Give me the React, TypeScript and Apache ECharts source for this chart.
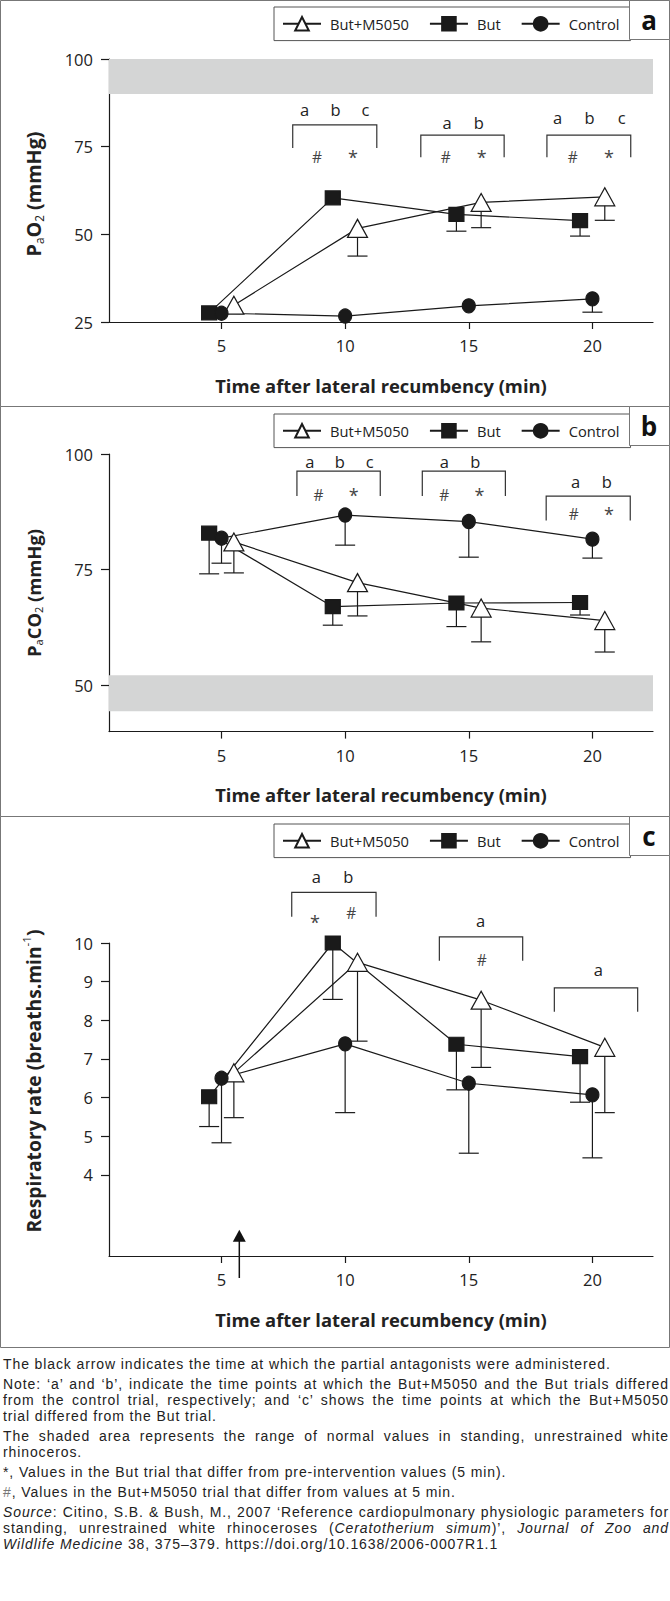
import React, { useEffect, useRef, useState } from 'react';
import * as echarts from 'echarts';

const FONT = "'Open Sans', Lato, sans-serif";
const NOTE_FONT = "'Liberation Sans', Arial, sans-serif";

// ---------- shared data ----------
const seriesNames = ['But+M5050', 'But', 'Control'];
const xTicks = [5, 10, 15, 20];
const triX = [5.5, 10.5, 15.5, 20.5];
const sqX = [4.5, 9.5, 14.5, 19.5];
const ciX = [5, 10, 15, 20];
const X_MIN = 0.45;
const X_MAX = 22.45;
const X_TITLE = 'Time after lateral recumbency (min)';

// ---------- panel a : PaO2 ----------
const a_tri = [29.8, 51.7, 59.1, 60.7];
const a_triLow = [29.8, 43.8, 51.9, 54.0];
const a_sq = [27.6, 60.4, 55.7, 53.9];
const a_sqLow = [27.6, 60.4, 50.9, 49.5];
const a_ci = [27.5, 26.7, 29.6, 31.6];
const a_ciLow = [27.5, 26.7, 29.6, 27.8];
const a_yTicks = [25, 50, 75, 100];
const a_band = [90, 100];
const a_brackets = [[7.88, 11.28, 81.2, 74.6], [13.06, 16.43, 78.3, 72.0], [18.16, 21.55, 78.3, 72.0]];
const a_letters: [string, number, number][] = [
  ['a', 8.36, 85.5], ['b', 9.61, 85.5], ['c', 10.82, 85.5],
  ['a', 14.12, 82.0], ['b', 15.4, 82.0],
  ['a', 18.59, 83.4], ['b', 19.88, 83.4], ['c', 21.18, 83.4],
];
const a_marks: [string, number, number][] = [
  ['#', 8.86, 72.0], ['*', 10.32, 72.0], ['#', 14.07, 72.0], ['*', 15.52, 72.0], ['#', 19.2, 72.0], ['*', 20.67, 72.0],
];

// ---------- panel b : PaCO2 ----------
const b_tri = [81.0, 72.2, 66.7, 64.0];
const b_triLow = [74.3, 65.0, 59.4, 57.2];
const b_sq = [82.9, 67.0, 67.8, 67.9];
const b_sqLow = [74.1, 63.0, 62.7, 65.2];
const b_ci = [81.8, 86.8, 85.4, 81.6];
const b_ciLow = [76.4, 80.3, 77.7, 77.5];
const b_yTicks = [50, 75, 100];
const b_band = [44.4, 52.2];
const b_brackets = [[8.05, 11.42, 96.3, 90.9], [13.12, 16.48, 96.3, 90.9], [18.13, 21.53, 90.9, 85.6]];
const b_letters: [string, number, number][] = [
  ['a', 8.57, 98.3], ['b', 9.78, 98.3], ['c', 10.99, 98.3],
  ['a', 14.01, 98.3], ['b', 15.26, 98.3],
  ['a', 19.32, 94.0], ['b', 20.58, 94.0],
];
const b_marks: [string, number, number][] = [
  ['#', 8.92, 91.1], ['*', 10.35, 91.1], ['#', 14.01, 91.1], ['*', 15.43, 91.1], ['#', 19.25, 87.0], ['*', 20.67, 87.0],
];

// ---------- panel c : respiratory rate ----------
const c_tri = [6.64, 9.5, 8.52, 7.3];
const c_triLow = [5.48, 7.46, 6.78, 5.61];
const c_sq = [6.02, 10.0, 7.38, 7.06];
const c_sqLow = [5.25, 8.54, 6.2, 5.88];
const c_ci = [6.5, 7.39, 6.37, 6.07];
const c_ciLow = [4.83, 5.61, 4.56, 4.44];
const c_yTicks = [4, 5, 6, 7, 8, 9, 10];
const c_brackets = [[7.84, 11.25, 11.31, 10.68], [13.81, 17.18, 10.16, 9.54], [18.46, 21.83, 8.84, 8.22]];
const c_letters: [string, number, number][] = [
  ['a', 8.83, 11.72], ['b', 10.13, 11.72], ['a', 15.48, 10.58], ['a', 20.24, 9.32],
];
const c_marks: [string, number, number][] = [['*', 8.78, 10.55], ['#', 10.25, 10.78], ['#', 15.52, 9.56]];
const c_arrow = { x: 5.72, tip: 2.58, end: 1.33 };

// ---------- notes (one entry per printed line; segment kinds: n normal, i italic, g grey) ----------
type Seg = [string, 'n' | 'i' | 'g'];
const NOTE_LINES: { segs: Seg[]; justify: boolean; newPara: boolean }[] = [
  { segs: [['The black arrow indicates the time at which the partial antagonists were administered.', 'n']], justify: false, newPara: false },
  { segs: [['Note: ‘a’ and ‘b’, indicate the time points at which the But+M5050 and the But trials differed', 'n']], justify: true, newPara: true },
  { segs: [['from the control trial, respectively; and ‘c’ shows the time points at which the But+M5050', 'n']], justify: true, newPara: false },
  { segs: [['trial differed from the But trial.', 'n']], justify: false, newPara: false },
  { segs: [['The shaded area represents the range of normal values in standing, unrestrained white', 'n']], justify: true, newPara: true },
  { segs: [['rhinoceros.', 'n']], justify: false, newPara: false },
  { segs: [['*, Values in the But trial that differ from pre-intervention values (5 min).', 'n']], justify: false, newPara: true },
  { segs: [['#', 'g'], [', Values in the But+M5050 trial that differ from values at 5 min.', 'n']], justify: false, newPara: true },
  { segs: [['Source', 'i'], [': Citino, S.B. & Bush, M., 2007 ‘Reference cardiopulmonary physiologic parameters for', 'n']], justify: true, newPara: true },
  { segs: [['standing, unrestrained white rhinoceroses (', 'n'], ['Ceratotherium simum', 'i'], [')’, ', 'n'], ['Journal of Zoo and', 'i']], justify: true, newPara: false },
  { segs: [['Wildlife Medicine', 'i'], [' 38, 375–379. https://doi.org/10.1638/2006-0007R1.1', 'n']], justify: false, newPara: false },
];

const PANELS = [
  { label: 'a', tri: a_tri, triLow: a_triLow, sq: a_sq, sqLow: a_sqLow, ci: a_ci, ciLow: a_ciLow, yMin: 25, yMax: 100, yTicks: a_yTicks, band: a_band, brackets: a_brackets, letters: a_letters, marks: a_marks },
  { label: 'b', tri: b_tri, triLow: b_triLow, sq: b_sq, sqLow: b_sqLow, ci: b_ci, ciLow: b_ciLow, yMin: 40, yMax: 100, yTicks: b_yTicks, band: b_band, brackets: b_brackets, letters: b_letters, marks: b_marks },
  { label: 'c', tri: c_tri, triLow: c_triLow, sq: c_sq, sqLow: c_sqLow, ci: c_ci, ciLow: c_ciLow, yMin: 1.9, yMax: 10, yTicks: c_yTicks, band: null as number[] | null, brackets: c_brackets, letters: c_letters, marks: c_marks },
];

// layout (pixels)
const LAYOUT = [
  { frameTop: 0, frameH: 406, gridTop: 59, gridH: 263, legendTop: 7, titleY: 194, titleLen: 125 },
  { frameTop: 406, frameH: 410, gridTop: 454, gridH: 277.6, legendTop: 414, titleY: 593, titleLen: 128 },
  { frameTop: 816, frameH: 531, gridTop: 943, gridH: 313, legendTop: 824, titleY: 1081, titleLen: 303 },
];

const Y_TITLES = [
  { main: 'PO (mmHg)', small: 'a2', text: '{b|P}{s|a}{b|O}{s|2}{b| (mmHg)}' },
  { main: 'PCO (mmHg)', small: 'a2', text: '{b|P}{s|a}{b|CO}{s|2}{b| (mmHg)}' },
  { main: 'Respiratory rate (breaths.min)', small: '-1', text: '{b|Respiratory rate (breaths.min}{p|-1}{b|)}' },
];

const INK = '#1a1a1a';
const TXT = '#222';
const NOTE_W = 666;

function measure(text: string, font: string) {
  const ctx = document.createElement('canvas').getContext('2d')!;
  ctx.font = font;
  return ctx.measureText(text).width;
}

function errRender(params: any, api: any) {
  const x = api.value(0), y = api.value(1), lo = api.value(2);
  if (!(lo < y)) return { type: 'group', children: [] };
  const p1 = api.coord([x, y]);
  const p2 = api.coord([x, lo]);
  const st = { stroke: INK, lineWidth: 1.2 };
  return {
    type: 'group',
    children: [
      { type: 'line', shape: { x1: p1[0], y1: p1[1], x2: p2[0], y2: p2[1] }, style: st },
      { type: 'line', shape: { x1: p2[0] - 10, y1: p2[1], x2: p2[0] + 10, y2: p2[1] }, style: st },
    ],
  };
}

function buildOption(legendSize: number) {
  const grid: any[] = [], xAxis: any[] = [], yAxis: any[] = [], series: any[] = [], legend: any[] = [];
  PANELS.forEach((p, i) => {
    const L = LAYOUT[i];
    grid.push({ left: 109, width: 544, top: L.gridTop, height: L.gridH });
    xAxis.push({
      type: 'value', gridIndex: i, min: X_MIN, max: X_MAX,
      axisLine: { show: true, lineStyle: { color: INK, width: 1.2 } },
      axisTick: { show: true, customValues: xTicks, length: 7, lineStyle: { color: INK, width: 1.2 } },
      axisLabel: { customValues: xTicks, margin: 15, fontSize: 16.5, color: TXT, fontFamily: FONT },
      splitLine: { show: false },
    });
    yAxis.push({
      type: 'value', gridIndex: i, min: p.yMin, max: p.yMax,
      axisLine: { show: true, lineStyle: { color: INK, width: 1.2 } },
      axisTick: { show: true, customValues: p.yTicks, length: 8, lineStyle: { color: INK, width: 1.2 } },
      axisLabel: { customValues: p.yTicks, margin: 16, fontSize: 16.5, color: TXT, fontFamily: FONT },
      splitLine: { show: false },
    });
    legend.push({
      data: seriesNames, left: 274, top: L.legendTop, orient: 'horizontal',
      selectedMode: false, borderColor: '#555', borderWidth: 1, borderRadius: 0,
      padding: [9, 11, 9, 8], itemGap: 20, itemWidth: 38, itemHeight: 17,
      textStyle: { fontSize: legendSize, color: TXT, fontFamily: FONT, padding: [0, 0, 0, 4] },
    });
    const groups = [
      { name: 'But+M5050', x: triX, y: p.tri, lo: p.triLow, symbol: 'triangle', size: [20, 18], fill: '#ffffff' },
      { name: 'But', x: sqX, y: p.sq, lo: p.sqLow, symbol: 'rect', size: [15, 14], fill: INK },
      { name: 'Control', x: ciX, y: p.ci, lo: p.ciLow, symbol: 'circle', size: [13, 14], fill: INK },
    ];
    groups.forEach((g) => {
      series.push({
        type: 'custom', xAxisIndex: i, yAxisIndex: i, z: 2, silent: true,
        data: g.x.map((x, k) => [x, g.y[k], g.lo[k]]),
        encode: { x: 0, y: 1 }, renderItem: errRender,
      });
    });
    groups.forEach((g, gi) => {
      const s: any = {
        type: 'line', name: g.name, xAxisIndex: i, yAxisIndex: i, z: 3,
        data: g.x.map((x, k) => [x, g.y[k]]),
        symbol: g.symbol, symbolSize: g.size, showSymbol: true,
        itemStyle: { color: g.fill, borderColor: INK, borderWidth: 1.2 },
        lineStyle: { color: INK, width: 1.2 },
        emphasis: { disabled: true }, silent: true,
      };
      if (gi === 2 && p.band) {
        s.markArea = {
          silent: true, itemStyle: { color: '#d4d5d5' },
          data: [[{ yAxis: p.band[0] }, { yAxis: p.band[1] }]],
        };
      }
      series.push(s);
    });
  });
  return { animation: false, grid, xAxis, yAxis, series, legend, textStyle: { fontFamily: FONT } };
}

function buildGraphics(chart: any) {
  const els: any[] = [];
  const P = (i: number, x: number, y: number) => chart.convertToPixel({ gridIndex: i }, [x, y]);
  const line = { stroke: '#333', lineWidth: 1.2, fill: null };
  const xTitleSize = (100 * 332) / measure(X_TITLE, `bold 100px ${FONT}`);
  PANELS.forEach((p, i) => {
    const L = LAYOUT[i];
    els.push({ type: 'rect', shape: { x: 0.5, y: L.frameTop + 0.5, width: 669, height: L.frameH }, style: { stroke: '#777', lineWidth: 1, fill: null }, z: 10 });
    els.push({ type: 'rect', shape: { x: 629.5, y: L.frameTop + 0.5, width: 40, height: 39 }, style: { stroke: '#777', lineWidth: 1, fill: '#fff' }, z: 10 });
    els.push({ type: 'text', x: 649, y: L.frameTop + 20, style: { text: p.label, fontSize: 26, fontWeight: 'bold', fontFamily: FONT, fill: '#111', align: 'center', verticalAlign: 'middle' }, z: 11 });
    const T = Y_TITLES[i];
    const wMain = measure(T.main, `bold 100px ${FONT}`);
    const wSmall = measure(T.small, `normal 100px ${FONT}`);
    const S = (100 * L.titleLen) / (wMain + 0.6 * wSmall);
    const s2 = S * 0.6;
    els.push({
      type: 'text', x: 33, y: L.titleY, rotation: Math.PI / 2,
      style: {
        text: T.text, align: 'center', verticalAlign: 'middle',
        rich: {
          b: { fontSize: S, fontWeight: 'bold', fontFamily: FONT, fill: TXT, lineHeight: S * 1.25 },
          s: { fontSize: s2, fontWeight: 'normal', fontFamily: FONT, fill: TXT, verticalAlign: 'bottom', lineHeight: S * 1.25 },
          p: { fontSize: s2, fontWeight: 'normal', fontFamily: FONT, fill: TXT, verticalAlign: 'top', lineHeight: S * 1.25 },
        },
      },
    });
    const axisY = P(i, 11, p.yMin)[1];
    els.push({ type: 'text', x: 381, y: axisY + 63, style: { text: X_TITLE, fontSize: xTitleSize, fontWeight: 'bold', fontFamily: FONT, fill: TXT, align: 'center', verticalAlign: 'middle' } });
    p.brackets.forEach((b) => {
      const q1 = P(i, b[0], b[3]), q2 = P(i, b[0], b[2]), q3 = P(i, b[1], b[2]), q4 = P(i, b[1], b[3]);
      els.push({ type: 'polyline', shape: { points: [q1, q2, q3, q4] }, style: line });
    });
    p.letters.forEach(([t, x, y]) => {
      const q = P(i, x, y);
      els.push({ type: 'text', x: q[0], y: q[1], style: { text: t, fontSize: 16.5, fontFamily: FONT, fill: TXT, align: 'center', verticalAlign: 'middle' } });
    });
    p.marks.forEach(([t, x, y]) => {
      const q = P(i, x, y);
      els.push({ type: 'text', x: q[0], y: q[1], style: { text: t, fontSize: t === '*' ? 18 : 15.5, fontFamily: FONT, fill: '#444', align: 'center', verticalAlign: 'middle' } });
    });
  });
  const tip = P(2, c_arrow.x, c_arrow.tip);
  const end = P(2, c_arrow.x, c_arrow.end);
  els.push({ type: 'line', shape: { x1: tip[0], y1: tip[1] + 8, x2: end[0], y2: end[1] }, style: { stroke: '#111', lineWidth: 1.5 } });
  els.push({ type: 'polygon', shape: { points: [[tip[0], tip[1]], [tip[0] - 6.5, tip[1] + 12], [tip[0] + 6.5, tip[1] + 12]] }, style: { fill: '#111' } });
  return els;
}

function lineWidth(segs: Seg[], size: number) {
  let w = 0, n = 0;
  segs.forEach(([t, k]) => {
    w += measure(t, `${k === 'i' ? 'italic ' : ''}normal ${size}px ${NOTE_FONT}`);
    n += t.length;
  });
  return { w, n };
}

export default function App() {
  const ref = useRef<HTMLDivElement>(null);
  const [spacing, setSpacing] = useState(0.3);
  useEffect(() => {
    document.body.style.margin = '0';
    const first = lineWidth(NOTE_LINES[0].segs, 14);
    let ls = (628 - first.w) / first.n;
    NOTE_LINES.forEach((l) => {
      if (!l.justify) return;
      const m = lineWidth(l.segs, 14);
      ls = Math.min(ls, (NOTE_W - 4 - m.w) / m.n);
    });
    setSpacing(Math.max(0, Math.min(1.2, ls)));
    const legendSize = (100 * 79) / measure('But+M5050', `normal 100px ${FONT}`);
    const chart = echarts.init(ref.current!, undefined, { renderer: 'svg' });
    chart.setOption(buildOption(legendSize) as any);
    chart.setOption({ graphic: buildGraphics(chart) } as any);
    return () => chart.dispose();
  }, []);
  return (
    <div style={{ width: 670, background: '#fff' }}>
      <div ref={ref} style={{ width: 670, height: 1348 }} />
      <div style={{ padding: '8px 1px 0 3px', width: NOTE_W, fontFamily: NOTE_FONT, fontSize: 14, letterSpacing: `${spacing}px`, color: TXT }}>
        {NOTE_LINES.map((l, li) => (
          <div
            key={li}
            style={{
              height: 16.3, lineHeight: '16.3px', marginTop: l.newPara ? 3.5 : 0,
              textAlign: l.justify ? 'justify' : 'left', textAlignLast: l.justify ? 'justify' : 'left',
            } as React.CSSProperties}
          >
            {l.segs.map(([t, k], si) =>
              k === 'i' ? <i key={si}>{t}</i> : k === 'g' ? <span key={si} style={{ color: '#777' }}>{t}</span> : <span key={si}>{t}</span>
            )}
          </div>
        ))}
      </div>
    </div>
  );
}
